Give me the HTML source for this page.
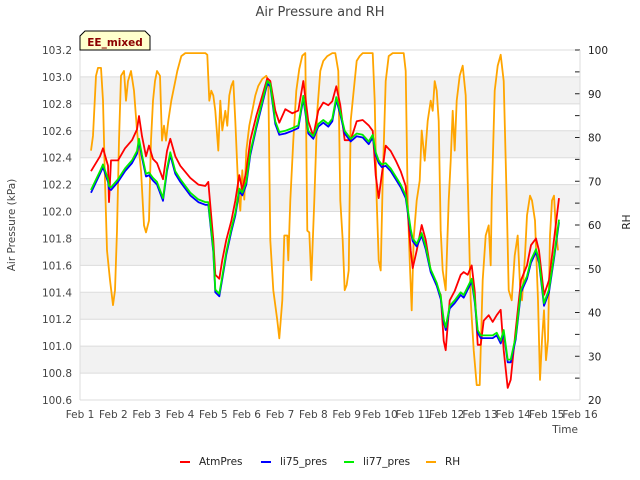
<!DOCTYPE html>
<html><head><meta charset="utf-8"><style>
body{margin:0;background:#fff;}
svg{display:block;font-family:"DejaVu Sans","Liberation Sans",sans-serif;}
</style></head><body>
<svg id="chart" width="640" height="480" viewBox="0 0 640 480">
<text x="320" y="16" text-anchor="middle" font-size="13" fill="#444">Air Pressure and RH</text>
<g id="bands"></g>
<g id="grid"></g>
<g id="series"></g>
<g id="axes"></g>
<text x="15" y="225" transform="rotate(-90 15 225)" text-anchor="middle" font-size="10.5" fill="#444">Air Pressure (kPa)</text>
<text x="630" y="222" transform="rotate(-90 630 222)" text-anchor="middle" font-size="10.5" fill="#222">RH</text>
<text x="578" y="433" text-anchor="end" font-size="10.5" fill="#444">Time</text>
<g>
<path d="M80,50 L80,36 L85,31 L145,31 L150,36 L150,50 Z" fill="#ffffcc" stroke="#000" stroke-width="1"/>
<text x="115" y="46" text-anchor="middle" font-size="10.5" font-weight="bold" fill="#8b0000">EE_mixed</text>
</g>
<g id="legend"></g>
</svg>
<script>
const pTimes=[0.33,0.60,0.69,0.84,0.87,0.93,1.14,1.35,1.56,1.71,1.77,1.86,1.98,2.07,2.19,2.31,2.49,2.61,2.71,2.86,3.01,3.31,3.55,3.76,3.85,4.00,4.06,4.18,4.27,4.39,4.54,4.66,4.78,4.87,4.99,5.11,5.29,5.47,5.62,5.71,5.86,5.98,6.16,6.37,6.55,6.70,6.85,7.00,7.15,7.30,7.45,7.57,7.69,7.81,7.94,8.12,8.30,8.48,8.66,8.78,8.87,8.96,9.05,9.17,9.32,9.47,9.62,9.77,9.92,9.98,10.10,10.25,10.37,10.52,10.70,10.82,10.91,10.97,11.09,11.24,11.42,11.51,11.63,11.75,11.84,11.93,12.02,12.11,12.26,12.38,12.50,12.62,12.71,12.83,12.92,13.07,13.23,13.41,13.53,13.68,13.77,13.92,14.07,14.22,14.37];
const atmPres=[102.30,102.41,102.47,102.34,102.07,102.38,102.38,102.47,102.53,102.61,102.71,102.56,102.41,102.49,102.39,102.36,102.24,102.45,102.54,102.41,102.34,102.25,102.20,102.19,102.22,101.79,101.53,101.50,101.64,101.79,101.93,102.08,102.27,102.16,102.30,102.53,102.71,102.86,102.99,102.97,102.75,102.66,102.76,102.73,102.75,102.97,102.67,102.56,102.75,102.81,102.79,102.82,102.93,102.79,102.53,102.53,102.67,102.68,102.64,102.60,102.27,102.10,102.27,102.49,102.45,102.38,102.30,102.19,101.71,101.58,101.71,101.90,101.79,101.56,101.45,101.38,101.04,100.97,101.34,101.41,101.53,101.55,101.53,101.60,101.41,101.01,101.01,101.19,101.23,101.18,101.23,101.27,100.97,100.69,100.75,101.12,101.49,101.60,101.75,101.80,101.71,101.38,101.49,101.79,102.10];
const li75Pres=[102.14,102.28,102.33,102.22,102.17,102.16,102.22,102.30,102.36,102.43,102.52,102.40,102.26,102.27,102.23,102.20,102.08,102.30,102.42,102.28,102.22,102.12,102.07,102.05,102.05,101.70,101.40,101.37,101.50,101.68,101.85,101.97,102.15,102.12,102.20,102.42,102.62,102.80,102.95,102.93,102.65,102.57,102.58,102.60,102.62,102.84,102.58,102.54,102.63,102.66,102.63,102.67,102.83,102.72,102.58,102.52,102.56,102.55,102.50,102.55,102.42,102.36,102.33,102.34,102.30,102.24,102.18,102.10,101.85,101.78,101.74,101.82,101.72,101.55,101.45,101.35,101.18,101.12,101.28,101.32,101.38,101.36,101.42,101.48,101.33,101.10,101.06,101.06,101.06,101.06,101.08,101.02,101.10,100.88,100.88,101.05,101.40,101.50,101.62,101.70,101.62,101.30,101.40,101.65,101.92];
const li77Pres=[102.16,102.30,102.35,102.24,102.19,102.18,102.24,102.32,102.38,102.45,102.54,102.42,102.28,102.29,102.25,102.22,102.10,102.32,102.44,102.30,102.24,102.14,102.09,102.07,102.07,101.72,101.42,101.39,101.52,101.70,101.87,101.99,102.17,102.14,102.22,102.44,102.64,102.82,102.97,102.95,102.67,102.59,102.60,102.62,102.64,102.86,102.60,102.56,102.65,102.68,102.65,102.69,102.85,102.74,102.60,102.54,102.58,102.57,102.52,102.57,102.44,102.38,102.35,102.36,102.32,102.26,102.20,102.12,101.87,101.80,101.76,101.84,101.74,101.57,101.47,101.37,101.20,101.14,101.30,101.34,101.40,101.38,101.44,101.50,101.35,101.12,101.08,101.08,101.08,101.08,101.10,101.04,101.12,100.90,100.90,101.07,101.42,101.52,101.64,101.72,101.64,101.32,101.42,101.67,101.94];
const rhTimes=[0.33,0.39,0.48,0.54,0.63,0.69,0.75,0.81,0.90,0.99,1.05,1.11,1.17,1.23,1.32,1.38,1.44,1.53,1.62,1.71,1.83,1.92,1.98,2.07,2.13,2.19,2.25,2.31,2.40,2.46,2.52,2.58,2.65,2.74,2.83,2.92,3.04,3.16,3.76,3.82,3.88,3.94,4.00,4.06,4.15,4.21,4.27,4.36,4.42,4.48,4.54,4.60,4.66,4.75,4.81,4.87,4.93,4.99,5.08,5.17,5.26,5.35,5.47,5.59,5.65,5.71,5.80,5.92,5.98,6.07,6.13,6.22,6.25,6.31,6.40,6.49,6.58,6.67,6.76,6.82,6.88,6.94,7.03,7.12,7.21,7.30,7.42,7.57,7.66,7.75,7.81,7.88,7.94,8.00,8.06,8.12,8.21,8.30,8.39,8.48,8.78,8.84,8.90,8.96,9.02,9.08,9.17,9.26,9.38,9.71,9.77,9.83,9.89,9.95,10.01,10.10,10.19,10.25,10.34,10.43,10.52,10.58,10.64,10.70,10.76,10.82,10.88,10.97,11.06,11.12,11.18,11.24,11.30,11.39,11.48,11.57,11.63,11.72,11.81,11.90,11.99,12.08,12.17,12.26,12.32,12.35,12.44,12.53,12.62,12.71,12.80,12.86,12.95,13.04,13.13,13.20,13.26,13.35,13.41,13.50,13.56,13.65,13.74,13.80,13.86,13.92,13.98,14.04,14.10,14.16,14.22,14.28,14.34];
const rhValues=[77.0,80.4,94.1,95.9,95.9,88.4,70.1,54.2,47.4,41.7,45.1,58.7,79.3,94.1,95.2,88.4,92.9,95.2,90.7,81.6,72.5,59.9,58.3,61.0,79.3,88.4,92.9,95.2,94.1,79.3,82.7,79.3,83.8,88.4,91.8,95.2,98.6,99.3,99.3,98.9,88.4,90.7,89.6,86.1,77.0,88.4,81.6,86.1,82.7,89.6,91.8,92.9,83.8,67.9,63.3,72.5,65.8,77.0,82.7,86.1,89.6,91.8,93.4,94.1,92.9,56.5,45.1,38.2,34.1,42.8,57.6,57.6,51.9,65.6,79.3,90.7,95.7,98.7,99.3,58.7,58.3,47.4,65.6,86.1,95.2,97.5,98.6,99.3,99.3,95.2,65.6,56.5,45.1,46.3,49.6,83.8,90.7,97.5,98.6,99.3,99.3,88.4,65.6,51.9,49.6,70.1,92.9,98.6,99.3,99.3,95.2,65.6,51.9,40.5,57.0,65.6,70.1,81.6,74.7,83.8,88.4,86.1,92.9,90.7,83.8,58.7,49.6,45.1,65.6,74.7,86.1,77.0,88.4,94.1,96.4,89.6,70.1,42.8,31.4,23.4,23.4,47.4,57.6,59.9,50.8,65.6,90.7,96.4,98.9,92.9,65.6,45.1,42.8,53.0,57.6,46.3,42.8,53.0,62.2,66.7,65.6,61.0,42.8,24.6,33.7,40.5,29.1,33.7,57.6,65.6,66.7,58.7,54.2];
const xTickLabels=["Feb 1","Feb 2","Feb 3","Feb 4","Feb 5","Feb 6","Feb 7","Feb 8","Feb 9","Feb 10","Feb 11","Feb 12","Feb 13","Feb 14","Feb 15","Feb 16"];
const leftTicks=[100.6,100.8,101.0,101.2,101.4,101.6,101.8,102.0,102.2,102.4,102.6,102.8,103.0,103.2];
const rightTicks=[20,30,40,50,60,70,80,90,100];

const NS="http://www.w3.org/2000/svg";
const L=80,R=580,T=50,B=400;
const xS=d=>L+(R-L)*d/15;
const yL=v=>B-(B-T)*(v-100.6)/2.6;
const yR=v=>B-(B-T)*(v-20)/80;
function mk(tag,attrs,parent){const e=document.createElementNS(NS,tag);for(const k in attrs)e.setAttribute(k,attrs[k]);parent.appendChild(e);return e;}
const bands=document.getElementById('bands'),grid=document.getElementById('grid'),axes=document.getElementById('axes'),series=document.getElementById('series'),legend=document.getElementById('legend');
for(let i=0;i<leftTicks.length-1;i++){
  if(i%2===1){const b=mk('rect',{x:L,y:yL(leftTicks[i+1]),width:R-L,height:yL(leftTicks[i])-yL(leftTicks[i+1]),fill:'#f2f2f2'},bands);
  
  }
}
leftTicks.forEach(v=>{
  const y=yL(v);
  const g=mk('line',{x1:L,x2:R,y1:y,y2:y,stroke:'#dcdcdc','stroke-width':1},grid);
  
  
  const t=mk('text',{x:L-8,y:y+4,'text-anchor':'end','font-size':10.5,fill:'#444'},axes);
  t.textContent=v.toFixed(1);
  
  
});
rightTicks.forEach(v=>{
  const y=yR(v);
  const t=mk('text',{x:R+8,y:y+4,'font-size':10.5,fill:'#222'},axes);
  t.textContent=v;
  
  
});
for(let v=20;v<=100;v+=5){const y=yR(v);const tk=mk('line',{x1:R-5,x2:R,y1:y,y2:y,stroke:'#222'},axes);

}
mk('line',{x1:L,x2:L,y1:T,y2:B,stroke:'#dcdcdc'},axes);
mk('line',{x1:R,x2:R,y1:T,y2:B,stroke:'#dcdcdc'},axes);
mk('line',{x1:L,x2:R,y1:B,y2:B,stroke:'#dcdcdc'},axes);
xTickLabels.forEach((s,i)=>{
  const t=mk('text',{x:xS(i),y:B+18,'text-anchor':'middle','font-size':10.5,fill:'#444'},axes);
  t.textContent=s;
  
  
});
function line(ts,vs,ys,color,name){
  const d=ts.map((t,i)=>(i?'L':'M')+xS(t).toFixed(1)+','+ys(vs[i]).toFixed(1)).join(' ');
  const p=mk('path',{d:d,fill:'none',stroke:color,'stroke-width':1.8,'stroke-linejoin':'round'},series);
  
  
}
line(rhTimes,rhValues,yR,'#ffa500','rh-line');
line(pTimes,atmPres,yL,'#ff0000','atmpres-line');
line(pTimes,li75Pres,yL,'#0000ff','li75-pres-line');
line(pTimes,li77Pres,yL,'#00ee00','li77-pres-line');
const leg=[['AtmPres','#ff0000',180],['li75_pres','#0000ff',261],['li77_pres','#00ee00',344],['RH','#ffa500',426]];
leg.forEach(([n,c,x])=>{
  const g=mk('g',{},legend);
  
  
  mk('line',{x1:x,x2:x+10,y1:462,y2:462,stroke:c,'stroke-width':2},g);
  const t=mk('text',{x:x+19,y:465,'font-size':10.5,fill:'#222'},g);t.textContent=n;
});
</script>
</body></html>
